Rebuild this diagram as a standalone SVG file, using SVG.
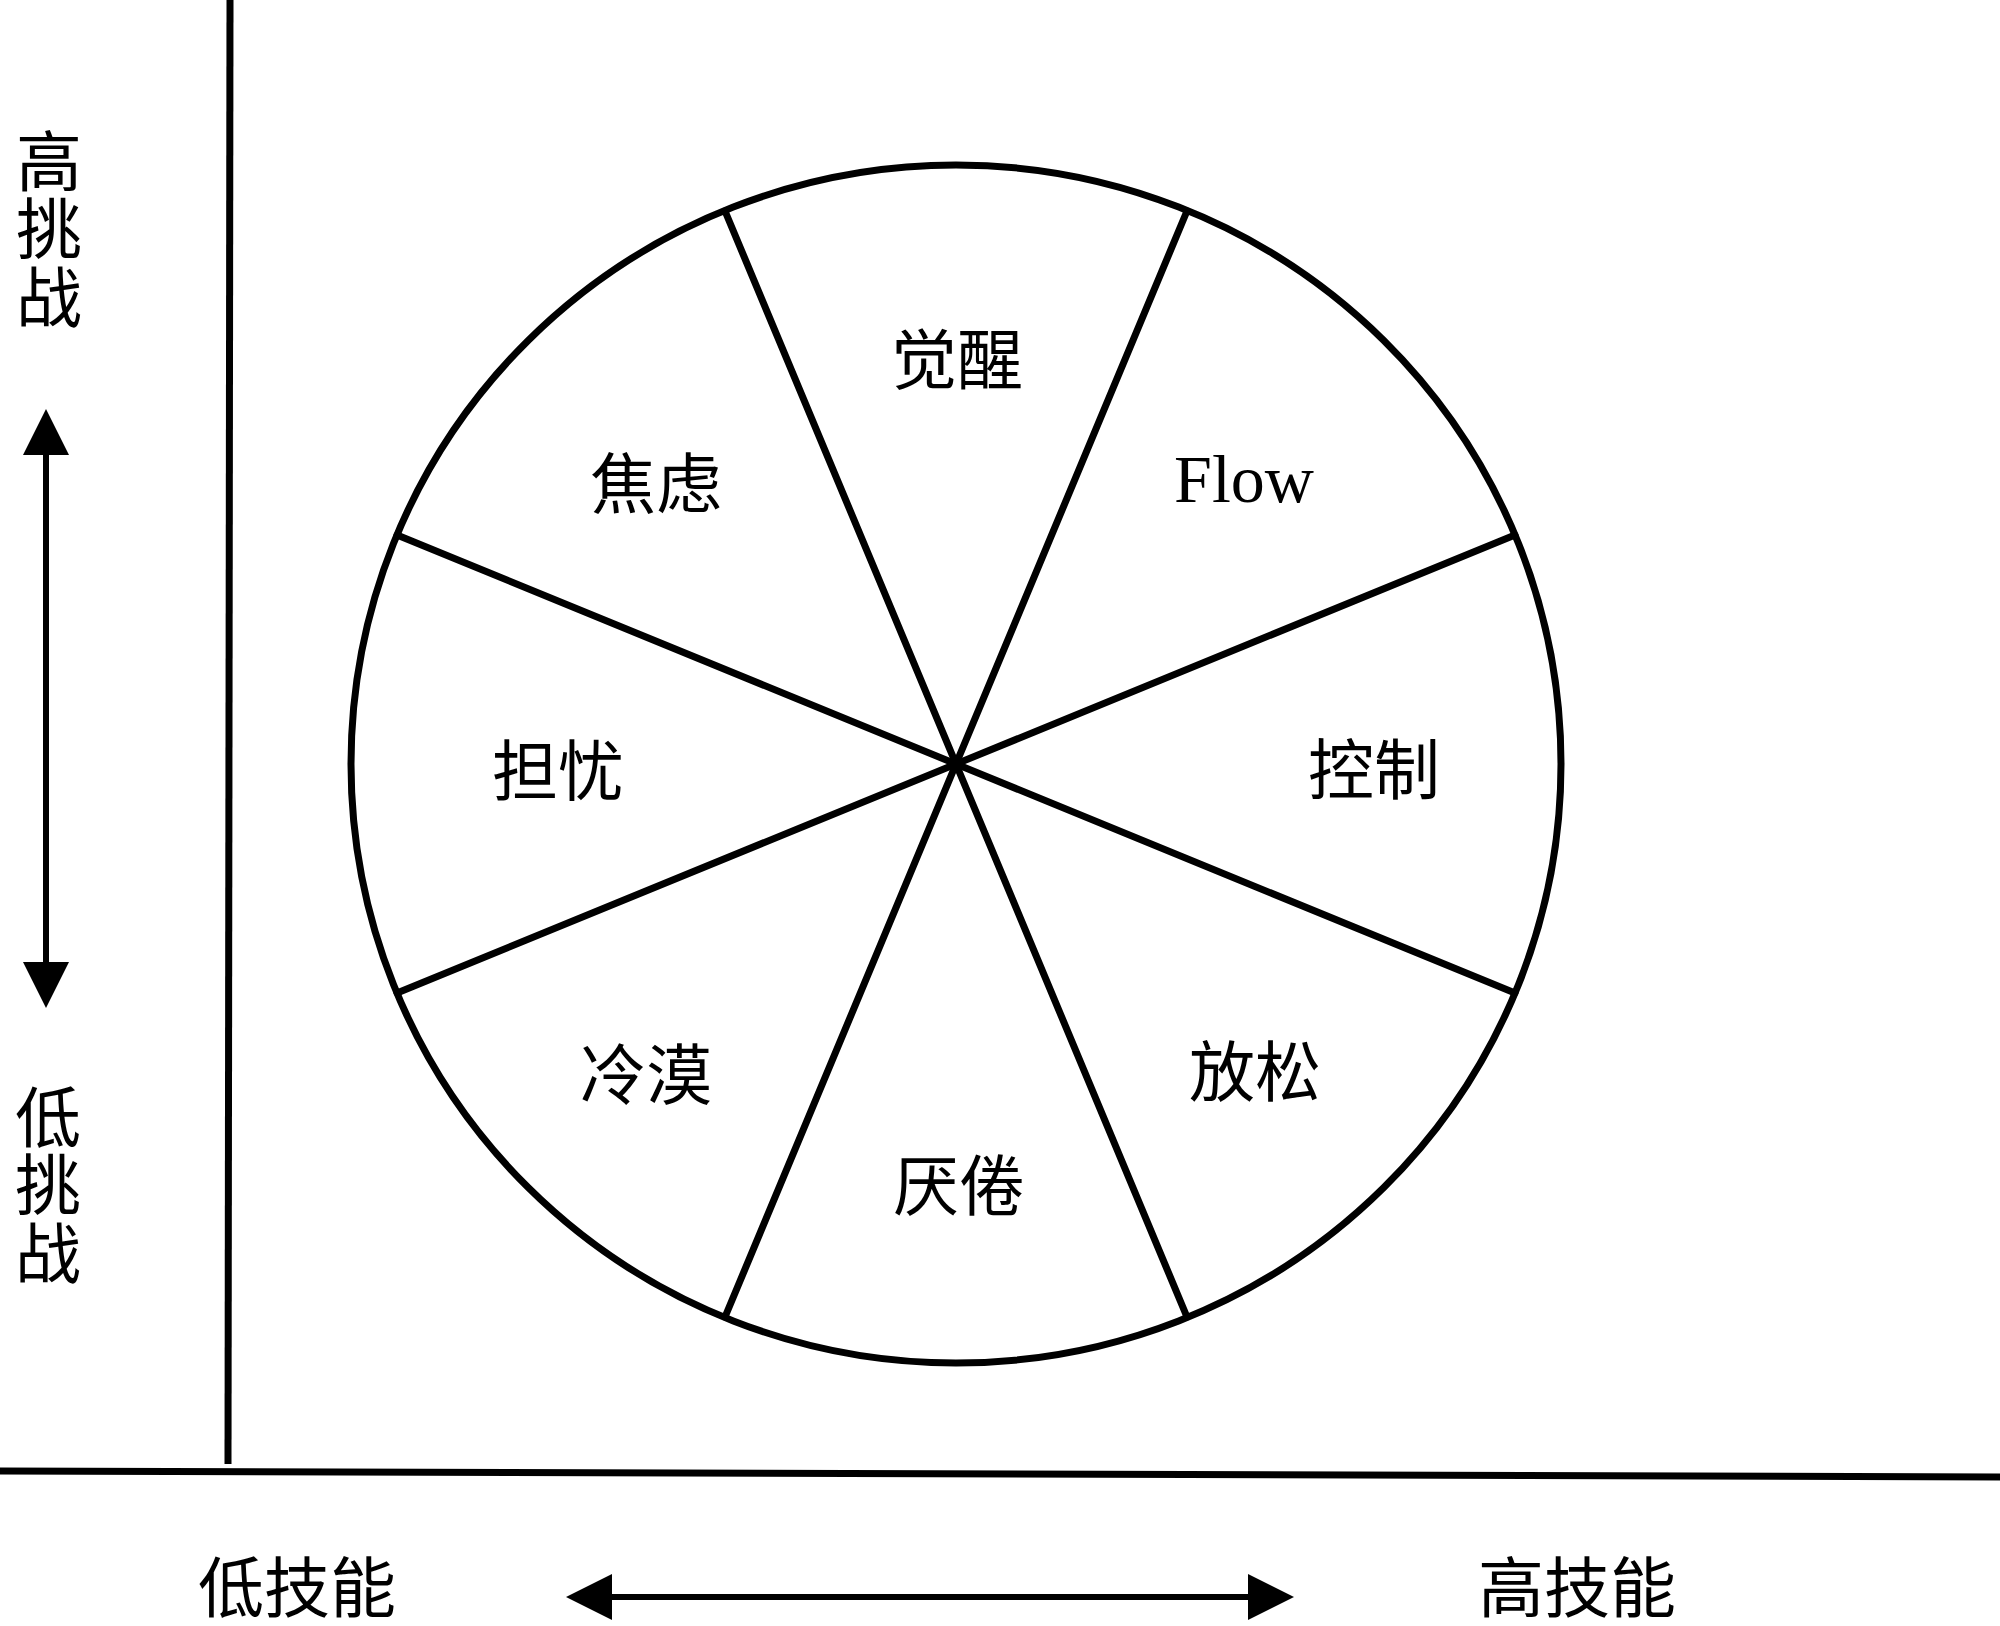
<svg xmlns="http://www.w3.org/2000/svg" width="2000" height="1626" viewBox="0 0 2000 1626">
  <style>
    .cjk { font-family: "Liberation Serif", "Noto Sans CJK SC", serif; font-size: 66px; fill: #000; text-anchor: middle; }
    .lat { font-family: "Liberation Serif", serif; font-size: 68px; fill: #000; text-anchor: middle; }
    .ax { stroke: #000; stroke-width: 7; fill: none; }
    .sp { stroke: #000; stroke-width: 7; fill: none; stroke-linecap: round; }
    .arr { stroke: #000; stroke-width: 6; fill: none; marker-start: url(#head); marker-end: url(#head); }
  </style>
  <defs>
    <marker id="head" markerUnits="userSpaceOnUse" markerWidth="50" markerHeight="50" refX="0" refY="23" orient="auto-start-reverse" overflow="visible">
      <path d="M0,0 L46,23 L0,46 Z" fill="#000"/>
    </marker>
  </defs>
  <rect width="2000" height="1626" fill="#fff"/>

  <g id="connectors">
    <line class="ax" x1="230" y1="0" x2="228" y2="1464"/>
    <line class="ax" x1="0" y1="1471" x2="2000" y2="1477"/>
    <line class="arr" x1="46" y1="455" x2="46" y2="962"/>
    <line class="arr" x1="612" y1="1597" x2="1248" y2="1597"/>
  </g>

  <g id="wheel">
    <ellipse cx="956" cy="764" rx="605" ry="599" fill="none" stroke="#000" stroke-width="7"/>
    <line class="sp" x1="1515" y1="535" x2="397" y2="993"/>
    <line class="sp" x1="397" y1="535" x2="1515" y2="993"/>
    <line class="sp" x1="1187" y1="211" x2="725" y2="1317"/>
    <line class="sp" x1="725" y1="211" x2="1187" y2="1317"/>
  </g>

  <g id="label-awake"><text class="cjk" x="957" y="384">觉醒</text></g>
  <g id="label-flow"><text class="lat" x="1244" y="502">Flow</text></g>
  <g id="label-anxiety"><text class="cjk" x="656" y="508">焦虑</text></g>
  <g id="label-worry"><text class="cjk" x="558" y="795">担忧</text></g>
  <g id="label-control"><text class="cjk" x="1374" y="794">控制</text></g>
  <g id="label-apathy"><text class="cjk" x="646" y="1099">冷漠</text></g>
  <g id="label-relax"><text class="cjk" x="1255" y="1096">放松</text></g>
  <g id="label-boredom"><text class="cjk" x="959" y="1210">厌倦</text></g>

  <g id="label-high-challenge">
    <text class="cjk" x="49" y="186">高</text>
    <text class="cjk" x="49" y="253">挑</text>
    <text class="cjk" x="49" y="322">战</text>
  </g>
  <g id="label-low-challenge">
    <text class="cjk" x="48" y="1142">低</text>
    <text class="cjk" x="48" y="1209">挑</text>
    <text class="cjk" x="48" y="1278">战</text>
  </g>
  <g id="label-low-skill"><text class="cjk" x="297" y="1612">低技能</text></g>
  <g id="label-high-skill"><text class="cjk" x="1577" y="1612">高技能</text></g>
</svg>
